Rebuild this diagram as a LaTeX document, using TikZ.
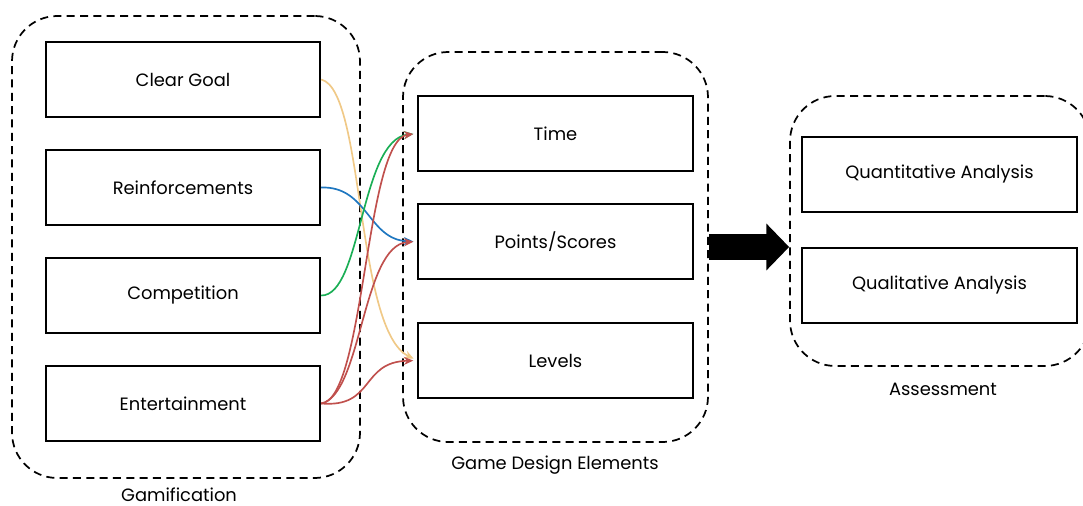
\documentclass[tikz,border=0pt]{standalone}
\usepackage{fontspec}
\setmainfont{Poppins}
\usetikzlibrary{arrows.meta}
\definecolor{cyel}{HTML}{F0C987}
\definecolor{cblue}{HTML}{1F77C0}
\definecolor{cgreen}{HTML}{1AAE55}
\definecolor{cred}{HTML}{C0504D}
\begin{document}
\begin{tikzpicture}[x=0.75pt,y=-0.75pt,
  box/.style={draw, line width=1.3pt, minimum width=206pt, minimum height=56pt, inner sep=0pt, font=\fontsize{13.4}{16}\selectfont},
  grp/.style={draw, dashed, dash pattern=on 6pt off 4pt, line width=1.3pt, rounded corners=34pt, inner sep=0pt},
  lbl/.style={font=\fontsize{13.4}{16}\selectfont, inner sep=0pt, anchor=base},
  con/.style={line width=1.25pt, -{Stealth[length=7pt,width=6pt]}, shorten >=3pt}]
\useasboundingbox (0,0) rectangle (1083,506);
\clip (0,0) rectangle (1083,506);
% containers
\node[grp, minimum width=261pt, minimum height=346.5pt] (gam) at (186,247) {};
\node[grp, minimum width=228.75pt, minimum height=292.5pt] (gde) at (555.5,247) {};
\node[grp, minimum width=225pt, minimum height=202.5pt] (asm) at (940,231) {};
% boxes
\node[box] (cg) at (183,79.5) {Clear Goal};
\node[box] (rf) at (183,187.5) {Reinforcements};
\node[box] (cp) at (183,295.5) {Competition};
\node[box] (et) at (183,403.5) {Entertainment};
\node[box] (tm) at (555.5,133.5) {Time};
\node[box] (ps) at (555.5,241.5) {Points/Scores};
\node[box] (lv) at (555.5,360.5) {Levels};
\node[box] (qn) at (939.5,174.5) {Quantitative Analysis};
\node[box] (ql) at (939.5,285.5) {Qualitative Analysis};
% labels
\node[lbl] (lg) at (179,501) {Gamification};
\node[lbl] (ld) at (555,469) {Game Design Elements};
\node[lbl] (la) at (943,395) {Assessment};
% connectors
\draw[con, cyel] (cg.east) .. controls (365,90) and (355,330) .. (lv.west);
\draw[con, cblue] (rf.east) .. controls (368,186) and (368,240) .. (ps.west);
\draw[con, cgreen] (cp.east) .. controls (362,296) and (360,140) .. (tm.west);
\draw[con, cred] (et.east) .. controls (365,400) and (365,140) .. (tm.west);
\draw[con, cred] (et.east) .. controls (362,395) and (362,245) .. (ps.west);
\draw[con, cred] (et.east) .. controls (375,408) and (360,362) .. (lv.west);
% big arrow
\draw[line width=19.5pt, -{Triangle[length=17pt,width=34pt]}] (gde.east) -- (gde.east -| asm.west);
\end{tikzpicture}
\end{document}
